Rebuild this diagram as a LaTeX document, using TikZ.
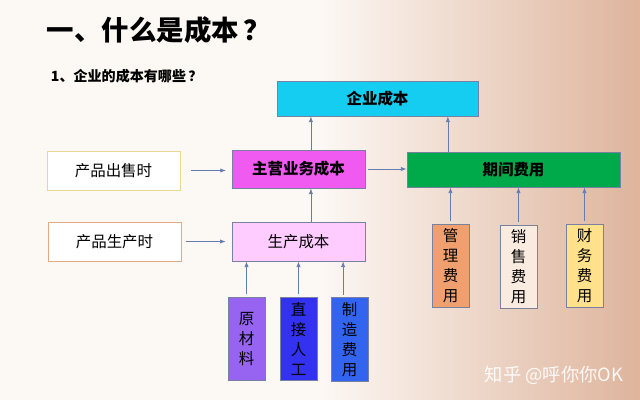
\documentclass[tikz,border=0pt]{standalone}
\usepackage{fontspec}
\usepackage{color}
\usepackage{tikz}
\usetikzlibrary{arrows.meta}
\setmainfont{Noto Sans CJK SC}

\definecolor{bgL}{RGB}{252,248,244}
\definecolor{bgR}{RGB}{222,180,156}
\definecolor{boxline}{RGB}{120,130,160}
\definecolor{arrowblue}{RGB}{100,125,175}
\definecolor{cQy}{RGB}{20,205,240}
\definecolor{cZy}{RGB}{240,90,240}
\definecolor{cQj}{RGB}{0,170,75}
\definecolor{cSc}{RGB}{255,204,255}
\definecolor{cYcl}{RGB}{150,100,240}
\definecolor{cRg}{RGB}{50,50,240}
\definecolor{cZz}{RGB}{50,100,240}
\definecolor{cGl}{RGB}{240,160,110}
\definecolor{cXs}{RGB}{250,235,225}
\definecolor{cCw}{RGB}{255,225,140}

\begin{document}
\begin{tikzpicture}[x=0.025cm,y=-0.025cm,
	hbox/.style={rectangle, draw=boxline, line width=0.6pt, inner sep=0pt, font=\fontsize{11}{13}\selectfont},
	vbox/.style={hbox, minimum width=0.925cm, minimum height=2.08cm, align=center, font=\fontsize{11}{14.2}\selectfont},
	arr/.style={-{Latex[length=4pt,width=3pt]}, draw=arrowblue, line width=0.5pt}]
	% Background
	\fill[bgL] (0,0) rectangle (320,400);
	\shade[left color=bgL, right color=bgR] (320,0) rectangle (640,400);
	
	% Titles
	\node[anchor=west, font=\fontsize{19.5}{24}\selectfont\bfseries] (title) at (42,30) {一、什么是成本\,？};
	\node[anchor=west, font=\fontsize{10}{12}\selectfont\bfseries] (sub) at (46,76) {1、企业的成本有哪些\,？};
	
	% Main boxes
	\node[hbox, fill=cQy, minimum width=5.025cm, minimum height=0.875cm, font=\fontsize{11}{13}\selectfont\bfseries] (qycb) at (377.5,98.5) {企业成本};
	\node[hbox, fill=white, draw={rgb,255:red,232;green,216;blue,150}, minimum width=3.325cm, minimum height=0.975cm] (cs) at (113.5,170.5) {产品出售时};
	\node[hbox, fill=cZy, minimum width=3.325cm, minimum height=0.95cm, font=\fontsize{11}{13}\selectfont\bfseries] (zy) at (298.5,169) {主营业务成本};
	\node[hbox, fill=cQj, minimum width=5.325cm, minimum height=0.875cm, font=\fontsize{11}{13}\selectfont\bfseries] (qj) at (513.5,169.5) {期间费用};
	\node[hbox, fill=white, draw={rgb,255:red,225;green,170;blue,130}, minimum width=3.325cm, minimum height=0.975cm] (sc) at (114.5,241.5) {产品生产时};
	\node[hbox, fill=cSc, minimum width=3.325cm, minimum height=0.975cm] (sccb) at (298.5,241.5) {生产成本};
	
	% Cost items
	\node[vbox, fill=cYcl] (ycl) at (246.5,339) {原\\材\\料};
	\node[vbox, fill=cRg] (zjrg) at (298.5,339) {直\\接\\人\\工};
	\node[vbox, fill=cZz] (zzfy) at (349.5,339.5) {制\\造\\费\\用};
	\node[vbox, fill=cGl] (glfy) at (450.5,266) {管\\理\\费\\用};
	\node[vbox, fill=cXs] (xsfy) at (518.5,267) {销\\售\\费\\用};
	\node[vbox, fill=cCw] (cwfy) at (584.5,266) {财\\务\\费\\用};
	
	% Arrows
	\draw[arr, shorten <=7.8pt, shorten >=4pt] (cs.east) -- (cs.east -| zy.west);
	\draw[arr, shorten <=3.5pt, shorten >=4.2pt] (sc.east) -- (sc.east -| sccb.west);
	\draw[arr, shorten <=2pt] (zy.east) -- (zy.east -| qj.west);
	\draw[arr] ([xshift=0.31cm]sccb.north) -- ([xshift=0.31cm]zy.south);
	\draw[arr] ([xshift=0.31cm]zy.north) -- ([xshift=0.31cm]zy.north |- qycb.south);
	\draw[arr] ([xshift=-1.64cm]qj.north) -- ([xshift=-1.64cm]qj.north |- qycb.south);
	\foreach \n in {ycl,zjrg}
		\draw[arr, shorten <=2pt] (\n.north) -- (\n.north |- sccb.south);
	\draw[arr, shorten <=2pt] ([xshift=-0.16cm]zzfy.north) -- ([xshift=-0.16cm]zzfy.north |- sccb.south);
	\foreach \n in {glfy,xsfy,cwfy}
		\draw[arr, shorten <=2pt] (\n.north) -- (\n.north |- qj.south);
	
	% Watermark
	\node[anchor=west, text=white, opacity=0.9, font=\fontsize{13}{15}\selectfont] (wm) at (480,375) {知乎 @呼你你OK};
\end{tikzpicture}
\end{document}
